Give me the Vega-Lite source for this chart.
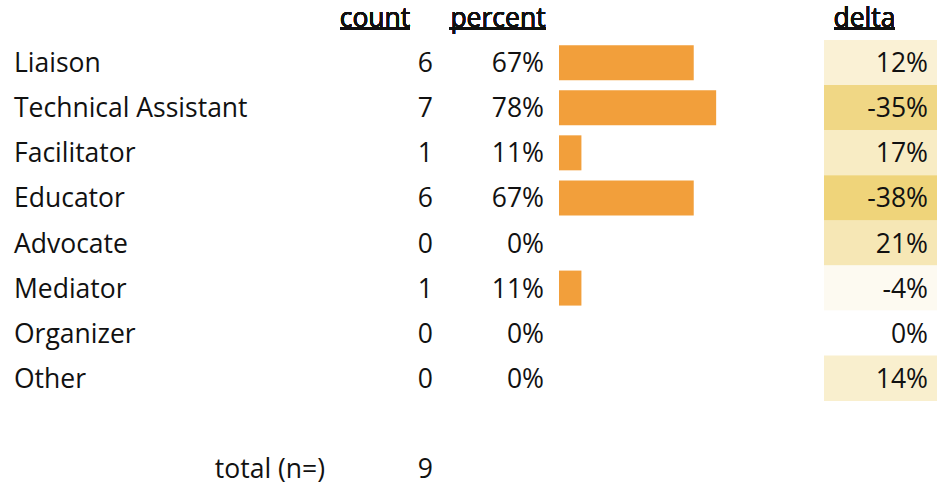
{
  "$schema": "https://vega.github.io/schema/vega-lite/v6.json",
  "padding": {"left": 0, "right": 8, "top": 0, "bottom": 0},
  "spacing": 0,
  "background": "white",
  "config": {
    "view": {"stroke": null},
    "locale": {"number": {"decimal": ".", "thousands": ",", "grouping": [3], "currency": ["$", ""], "minus": "-"}},
    "text": {"font": "Open Sans", "fontSize": 26.5, "color": "#111111", "baseline": "middle", "dy": 1.5}
  },
  "data": {
    "values": [
      {"role": "Liaison", "count": 6, "percent": 0.667, "delta": 0.12},
      {"role": "Technical Assistant", "count": 7, "percent": 0.778, "delta": -0.35},
      {"role": "Facilitator", "count": 1, "percent": 0.111, "delta": 0.17},
      {"role": "Educator", "count": 6, "percent": 0.667, "delta": -0.38},
      {"role": "Advocate", "count": 0, "percent": 0, "delta": 0.21},
      {"role": "Mediator", "count": 1, "percent": 0.111, "delta": -0.04},
      {"role": "Organizer", "count": 0, "percent": 0, "delta": 0},
      {"role": "Other", "count": 0, "percent": 0, "delta": 0.14},
      {"role": "total (n=)", "count": 9}
    ]
  },
  "hconcat": [
    {
      "width": 329, "height": 486,
      "layer": [
        {
          "transform": [{"filter": "datum.role !== 'total (n=)'"}],
          "mark": {"type": "text", "align": "left"},
          "encoding": {
            "y": {"field": "role", "type": "nominal", "axis": null,
                  "scale": {"type": "point", "padding": 0.39, "domain": ["hdr", "Liaison", "Technical Assistant", "Facilitator", "Educator", "Advocate", "Mediator", "Organizer", "Other", "gap", "total (n=)"]}},
            "x": {"value": 14},
            "text": {"field": "role"}
          }
        },
        {
          "transform": [{"filter": "datum.role === 'total (n=)'"}],
          "mark": {"type": "text", "align": "right", "dx": -4},
          "encoding": {
            "y": {"field": "role", "type": "nominal", "axis": null},
            "x": {"value": "width"},
            "text": {"field": "role"}
          }
        }
      ]
    },
    {
      "width": 108, "height": 486,
      "layer": [
        {
          "mark": {"type": "text", "align": "right", "dx": -4},
          "encoding": {
            "y": {"field": "role", "type": "nominal", "axis": null,
                  "scale": {"type": "point", "padding": 0.39, "domain": ["hdr", "Liaison", "Technical Assistant", "Facilitator", "Educator", "Advocate", "Mediator", "Organizer", "Other", "gap", "total (n=)"]}},
            "x": {"value": "width"},
            "text": {"field": "count", "type": "quantitative"}
          }
        },
        {
          "mark": {"type": "text", "align": "center"},
          "encoding": {
            "y": {"datum": "hdr", "type": "nominal", "axis": null},
            "x": {"value": 46},
            "text": {"datum": "count"}
          }
        },
        {
          "mark": {"type": "rule", "strokeWidth": 2, "color": "#111111", "yOffset": 11},
          "encoding": {
            "y": {"datum": "hdr", "type": "nominal", "axis": null},
            "x": {"value": 11},
            "x2": {"value": 81}
          }
        }
      ]
    },
    {
      "width": 111, "height": 486,
      "layer": [
        {
          "transform": [{"filter": "isValid(datum.percent)"}],
          "mark": {"type": "text", "align": "right", "dx": -4},
          "encoding": {
            "y": {"field": "role", "type": "nominal", "axis": null,
                  "scale": {"type": "point", "padding": 0.39, "domain": ["hdr", "Liaison", "Technical Assistant", "Facilitator", "Educator", "Advocate", "Mediator", "Organizer", "Other", "gap", "total (n=)"]}},
            "x": {"value": "width"},
            "text": {"field": "percent", "type": "quantitative", "format": ".0%"}
          }
        },
        {
          "mark": {"type": "text", "align": "center"},
          "encoding": {
            "y": {"datum": "hdr", "type": "nominal", "axis": null},
            "x": {"value": 61},
            "text": {"datum": "percent"}
          }
        },
        {
          "mark": {"type": "rule", "strokeWidth": 2, "color": "#111111", "yOffset": 11},
          "encoding": {
            "y": {"datum": "hdr", "type": "nominal", "axis": null},
            "x": {"value": 12},
            "x2": {"value": 109}
          }
        }
      ]
    },
    {
      "width": 276, "height": 486,
      "transform": [{"filter": "datum.percent > 0"}],
      "mark": {"type": "bar", "size": 35, "color": "#f29f3b", "orient": "horizontal"},
      "encoding": {
        "y": {"field": "role", "type": "nominal", "axis": null,
              "scale": {"type": "point", "padding": 0.39, "domain": ["hdr", "Liaison", "Technical Assistant", "Facilitator", "Educator", "Advocate", "Mediator", "Organizer", "Other", "gap", "total (n=)"]}},
        "x": {"field": "percent", "type": "quantitative", "axis": null,
              "scale": {"domain": [0, 1], "range": [11, 213]}}
      }
    },
    {
      "width": 113, "height": 486,
      "layer": [
        {
          "transform": [{"filter": "isValid(datum.delta)"}],
          "mark": {"type": "bar", "size": 45.5, "orient": "horizontal"},
          "encoding": {
            "y": {"field": "role", "type": "nominal", "axis": null,
                  "scale": {"type": "point", "padding": 0.39, "domain": ["hdr", "Liaison", "Technical Assistant", "Facilitator", "Educator", "Advocate", "Mediator", "Organizer", "Other", "gap", "total (n=)"]}},
            "x": {"value": 0},
            "x2": {"value": "width"},
            "color": {"field": "delta", "type": "quantitative", "legend": null,
                      "scale": {"domain": [-0.38, 0, 0.38], "range": ["#efd47a", "#ffffff", "#efd47a"], "interpolate": "rgb"}}
          }
        },
        {
          "transform": [{"filter": "isValid(datum.delta)"}],
          "mark": {"type": "text", "align": "right", "dx": -9},
          "encoding": {
            "y": {"field": "role", "type": "nominal", "axis": null},
            "x": {"value": "width"},
            "text": {"field": "delta", "type": "quantitative", "format": ".0%"}
          }
        },
        {
          "mark": {"type": "text", "align": "center"},
          "encoding": {
            "y": {"datum": "hdr", "type": "nominal", "axis": null},
            "x": {"value": 40.5},
            "text": {"datum": "delta"}
          }
        },
        {
          "mark": {"type": "rule", "strokeWidth": 2, "color": "#111111", "yOffset": 11},
          "encoding": {
            "y": {"datum": "hdr", "type": "nominal", "axis": null},
            "x": {"value": 10},
            "x2": {"value": 71}
          }
        }
      ]
    }
  ]
}
